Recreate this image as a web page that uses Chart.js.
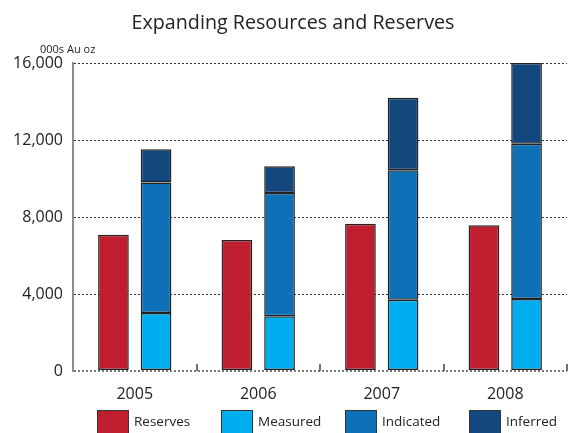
<!DOCTYPE html>
<html>
<head>
<meta charset="utf-8">
<script src="https://cdn.jsdelivr.net/npm/chart.js@4.4.0/dist/chart.umd.min.js"></script>
<style>
  html, body { margin: 0; padding: 0; background: #fff; }
  #wrap { position: relative; width: 575px; height: 433px; overflow: hidden; }
  #legend { position: absolute; left: 0; top: 410px; width: 575px; height: 23px; }
  .item { position: absolute; top: 0; height: 23px; font: 13.5px "Open Sans", sans-serif; color: #222; }
  .box { position: absolute; left: 0; top: 0; width: 30px; height: 24px; border: 1px solid #333; }
  .lbl { position: absolute; left: 37px; top: 2px; white-space: nowrap; }
</style>
</head>
<body>
<div id="wrap">
  <canvas id="chart" width="575" height="433"></canvas>
  <div id="legend"></div>
</div>
<script>
// data (000s Au oz)
const years = ['2005', '2006', '2007', '2008'];
const reserves = [7080, 6800, 7650, 7570];
const measured = [3010, 2840, 3700, 3740];
const indicated = [6780, 6410, 6730, 8060];
const inferred = [1730, 1390, 3760, 4200];
const yTicks = [0, 4000, 8000, 12000, 16000];

const colors = {
  Reserves: '#BE1E2D',
  Measured: '#00ADEE',
  Indicated: '#0E71B8',
  Inferred: '#13487E'
};

const FONT = '"Open Sans", sans-serif';

function makeSet(label, data, stack) {
  return {
    label,
    data,
    stack,
    backgroundColor: colors[label],
    borderColor: '#222',
    borderWidth: 1.5,
    borderSkipped: false,
    categoryPercentage: 0.69,
    barPercentage: 0.72
  };
}

// title, unit label and the little boundary ticks on the x axis
const extras = {
  id: 'extras',
  afterDraw(chart) {
    const { ctx, chartArea } = chart;
    const x = chart.scales.x;
    ctx.save();
    ctx.fillStyle = '#222';
    ctx.textAlign = 'center';
    ctx.textBaseline = 'alphabetic';
    ctx.font = '19.7px ' + FONT;
    ctx.fillText('Expanding Resources and Reserves', 293, 29);
    ctx.font = '11px ' + FONT;
    ctx.textAlign = 'left';
    ctx.fillText('000s Au oz', 40, 53);

    const step = (x.right - x.left) / years.length;
    ctx.strokeStyle = '#444';
    ctx.lineWidth = 1.5;
    for (let i = 0; i < years.length; i++) {
      const bx = Math.round(x.getPixelForTick(i) + step / 2);
      ctx.beginPath();
      ctx.moveTo(bx, chartArea.bottom);
      ctx.lineTo(bx, chartArea.bottom - 7);
      ctx.stroke();
    }
    ctx.restore();
  }
};

new Chart(document.getElementById('chart'), {
  type: 'bar',
  data: {
    labels: years,
    datasets: [
      makeSet('Reserves', reserves, 'res'),
      makeSet('Measured', measured, 'mii'),
      makeSet('Indicated', indicated, 'mii'),
      makeSet('Inferred', inferred, 'mii')
    ]
  },
  options: {
    responsive: false,
    animation: false,
    layout: { padding: { left: 0, right: 8, top: 63, bottom: 32 } },
    plugins: {
      legend: { display: false },
      tooltip: { enabled: false }
    },
    scales: {
      x: {
        stacked: true,
        afterFit: s => { s.height = 30; },
        grid: { display: false },
        border: { display: false },
        ticks: { padding: 6, color: '#222', font: { family: FONT, size: 16 } }
      },
      y: {
        stacked: true,
        min: 0,
        max: 16000,
        afterFit: s => { s.width = 73; },
        afterBuildTicks: s => { s.ticks = yTicks.map(v => ({ value: v })); },
        grid: {
          drawTicks: false,
          color: c => c.tick && c.tick.value === 0 ? '#777' : '#333',
          lineWidth: c => c.tick && c.tick.value === 0 ? 2 : 1
        },
        border: { display: true, color: '#8c8c8c', width: 2, dash: [2, 2] },
        ticks: {
          padding: 10,
          color: '#222',
          font: { family: FONT, size: 16 },
          callback: v => v.toLocaleString('en-US')
        }
      }
    }
  },
  plugins: [extras]
});

// legend built from the same series names
const legend = document.getElementById('legend');
Object.keys(colors).forEach((name, i) => {
  const item = document.createElement('div');
  item.className = 'item';
  item.style.left = (97 + i * 124) + 'px';
  item.innerHTML = '<div class="box" style="background:' + colors[name] + '"></div><span class="lbl">' + name + '</span>';
  legend.appendChild(item);
});
</script>
</body>
</html>
